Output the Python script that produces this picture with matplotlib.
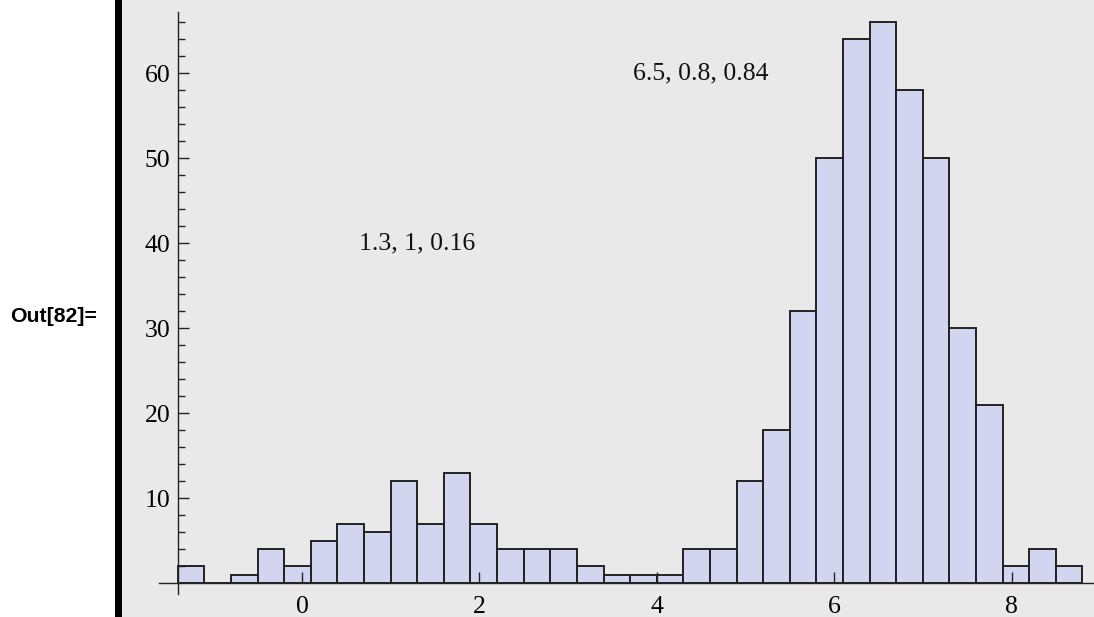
import numpy as np
import matplotlib
matplotlib.use("Agg")
import matplotlib.pyplot as plt
from matplotlib.patches import Rectangle

# =========================
# 1. Data
# =========================
bin_start = -1.4
bin_width = 0.3
counts = [2, 0, 1, 4, 2, 5, 7, 6, 12, 7, 13, 7, 4, 4, 4, 2, 1, 1, 1,
          4, 4, 12, 18, 32, 50, 64, 66, 58, 50, 30, 21, 2, 4, 2]

x_ticks = [0, 2, 4, 6, 8]
y_ticks = [10, 20, 30, 40, 50, 60]

# fitted component parameters (mean, sd, weight)
labels = ["1.3, 1, 0.16", "6.5, 0.8, 0.84"]
label_pos = [(1.3, 40), (4.5, 60)]

bin_edges = bin_start + bin_width * np.arange(len(counts) + 1)

# =========================
# 2. Figure
# =========================
W, H = 1094, 617
fig = plt.figure(figsize=(W / 100, H / 100), dpi=100)
fig.patch.set_facecolor("white")

# notebook-style output cell: grey panel with black bracket on the left
fig.patches.append(Rectangle((122 / W, 0), 1 - 122 / W, 1, transform=fig.transFigure,
                             facecolor="#e9e9e9", edgecolor="none", zorder=-2))
fig.patches.append(Rectangle((115 / W, 0), 7 / W, 1, transform=fig.transFigure,
                             facecolor="black", edgecolor="none", zorder=-1))
fig.text(10 / W, 1 - 317 / H, "Out[82]=", family="Liberation Sans", weight="bold",
         fontsize=15.3, ha="left", va="center")

ax = fig.add_axes([159 / W, 23 / H, (W - 159) / W, (594 - 12) / H])
ax.set_facecolor("none")
ax.set_zorder(1)

# =========================
# 3. Histogram
# =========================
ax.bar(bin_edges[:-1], counts, width=bin_width, align="edge",
       color="#d1d5f0", edgecolor="#222222", linewidth=1.4, zorder=1)

for text, (tx, ty) in zip(labels, label_pos):
    ax.text(tx, ty, text, family="Liberation Serif", fontsize=18.5,
            ha="center", va="center", color="#111111")

# =========================
# 4. Axes in the Mathematica style
# =========================
ax.set_xlim(-1.612, 8.93)
ax.set_ylim(-1.26, 67.2)

ax.spines["top"].set_visible(False)
ax.spines["right"].set_visible(False)
ax.spines["left"].set_position(("data", bin_start))
ax.spines["bottom"].set_position(("data", 0))
for side in ["left", "bottom"]:
    ax.spines[side].set_linewidth(1.0)
    ax.spines[side].set_color("#222222")
    ax.spines[side].set_zorder(3)

ax.set_xticks(x_ticks)
ax.set_yticks(y_ticks)
ax.set_yticks(np.arange(2, 67, 2), minor=True)

ax.tick_params(axis="x", direction="in", length=8, width=1.0, pad=9,
               labelsize=18.5, color="#222222")
ax.tick_params(axis="y", which="major", direction="in", length=7.7, width=1.0,
               pad=5.5, labelsize=18.5, color="#222222")
ax.tick_params(axis="y", which="minor", direction="in", length=4.8, width=1.0,
               color="#222222")
for lab in ax.get_xticklabels() + ax.get_yticklabels():
    lab.set_family("Liberation Serif")

fig.savefig("out.png", dpi=100, facecolor=fig.get_facecolor())
